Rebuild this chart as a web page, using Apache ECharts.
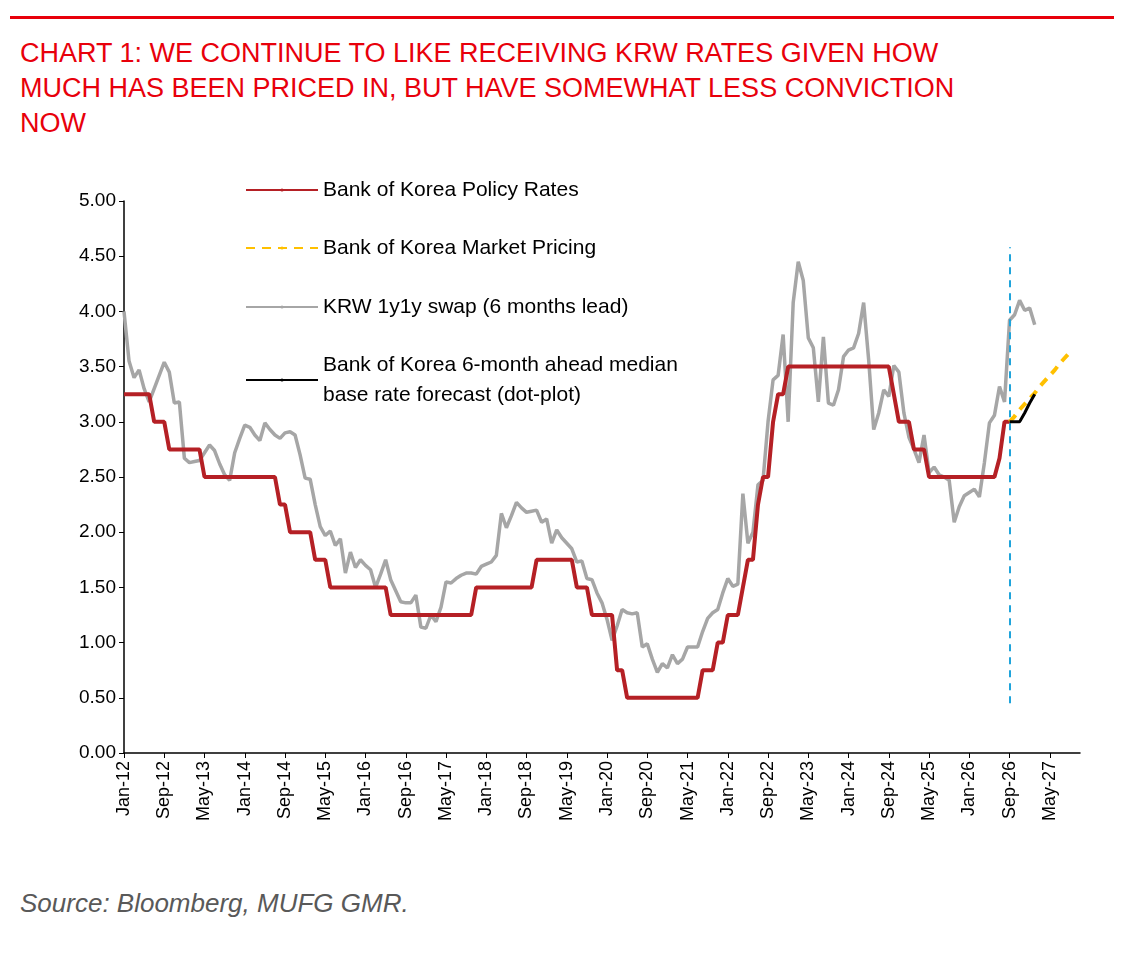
<!DOCTYPE html>
<html>
<head>
<meta charset="utf-8">
<script src="https://cdn.jsdelivr.net/npm/echarts@6/dist/echarts.min.js"></script>
<style>
  body { margin: 0; background: #fff; font-family: "Liberation Sans", Arial, sans-serif; }
  #rule { position: absolute; left: 10px; top: 16px; width: 1104px; height: 3px; background: #e8000b; }
  #title { position: absolute; left: 20px; top: 36px; width: 1100px; color: #e8000b; font-size: 27px; line-height: 35px; }
  #chart { position: absolute; left: 0; top: 140px; width: 1124px; height: 730px; }
  #source { position: absolute; left: 20px; top: 888px; color: #595959; font-size: 26px; font-style: italic; }
</style>
</head>
<body>
<div id="rule"></div>
<div id="title">CHART 1: WE CONTINUE TO LIKE RECEIVING KRW RATES GIVEN HOW<br>MUCH HAS BEEN PRICED IN, BUT HAVE SOMEWHAT LESS CONVICTION<br>NOW</div>
<div id="chart"></div>
<div id="source">Source: Bloomberg, MUFG GMR.</div>
<script>
const monthNames = ['Jan','Feb','Mar','Apr','May','Jun','Jul','Aug','Sep','Oct','Nov','Dec'];
const years = [12,13,14,15,16,17,18,19,20,21,22,23,24,25,26,27];
const lastMonthIdx = 190; // Nov-27

const months = [];
years.forEach(y => monthNames.forEach(m => months.push(m + '-' + y)));
const categories = months.slice(0, lastMonthIdx + 1);

// Bank of Korea policy rate, monthly from Jan-12 to Sep-26
const policyRate = [
  3.25,3.25,3.25,3.25,3.25,3.25,3.00,3.00,3.00,2.75,2.75,2.75,
  2.75,2.75,2.75,2.75,2.50,2.50,2.50,2.50,2.50,2.50,2.50,2.50,
  2.50,2.50,2.50,2.50,2.50,2.50,2.50,2.25,2.25,2.00,2.00,2.00,
  2.00,2.00,1.75,1.75,1.75,1.50,1.50,1.50,1.50,1.50,1.50,1.50,
  1.50,1.50,1.50,1.50,1.50,1.25,1.25,1.25,1.25,1.25,1.25,1.25,
  1.25,1.25,1.25,1.25,1.25,1.25,1.25,1.25,1.25,1.25,1.50,1.50,
  1.50,1.50,1.50,1.50,1.50,1.50,1.50,1.50,1.50,1.50,1.75,1.75,
  1.75,1.75,1.75,1.75,1.75,1.75,1.50,1.50,1.50,1.25,1.25,1.25,
  1.25,1.25,0.75,0.75,0.50,0.50,0.50,0.50,0.50,0.50,0.50,0.50,
  0.50,0.50,0.50,0.50,0.50,0.50,0.50,0.75,0.75,0.75,1.00,1.00,
  1.25,1.25,1.25,1.50,1.75,1.75,2.25,2.50,2.50,3.00,3.25,3.25,
  3.50,3.50,3.50,3.50,3.50,3.50,3.50,3.50,3.50,3.50,3.50,3.50,
  3.50,3.50,3.50,3.50,3.50,3.50,3.50,3.50,3.50,3.25,3.00,3.00,
  3.00,2.75,2.75,2.75,2.50,2.50,2.50,2.50,2.50,2.50,2.50,2.50,
  2.50,2.50,2.50,2.50,2.50,2.50,2.67,3.00,3.00
];

// KRW 1y1y swap (6 months lead), monthly from Jan-12 to Feb-27
const swap1y1y = [
  4.00,3.55,3.40,3.47,3.30,3.18,3.30,3.42,3.54,3.45,3.17,3.18,
  2.67,2.63,2.64,2.65,2.72,2.79,2.74,2.62,2.52,2.47,2.72,2.85,
  2.97,2.95,2.88,2.83,2.99,2.93,2.88,2.85,2.90,2.91,2.88,2.70,
  2.49,2.48,2.25,2.05,1.97,2.01,1.88,1.94,1.63,1.82,1.68,1.75,
  1.70,1.66,1.50,1.62,1.75,1.57,1.47,1.37,1.36,1.36,1.43,1.14,
  1.13,1.25,1.19,1.32,1.55,1.54,1.58,1.61,1.63,1.63,1.62,1.69,
  1.71,1.73,1.79,2.17,2.04,2.15,2.27,2.22,2.18,2.19,2.20,2.09,
  2.12,1.90,2.02,1.95,1.90,1.85,1.73,1.74,1.58,1.57,1.45,1.36,
  1.21,1.02,1.15,1.30,1.27,1.26,1.27,0.96,0.99,0.85,0.73,0.81,
  0.77,0.89,0.81,0.85,0.96,0.96,0.96,1.10,1.22,1.27,1.30,1.45,
  1.58,1.51,1.53,2.35,1.90,2.00,2.43,2.47,3.00,3.38,3.42,3.79,
  3.00,4.08,4.45,4.28,3.76,3.67,3.18,3.77,3.17,3.15,3.29,3.59,
  3.65,3.67,3.80,4.08,3.56,2.93,3.08,3.29,3.23,3.51,3.45,3.08,
  2.86,2.75,2.63,2.88,2.54,2.59,2.52,2.50,2.47,2.09,2.23,2.33,
  2.36,2.39,2.32,2.63,2.99,3.06,3.32,3.18,3.92,3.97,4.10,4.01,
  4.03,3.88
];

// Market pricing from Sep-26 to Sep-27
const pricingStart = 'Sep-26';
const marketPricing = [3.00,3.05,3.11,3.16,3.21,3.26,3.32,3.37,3.42,3.47,3.53,3.58,3.63];

// Dot-plot median forecast from Sep-26 to Feb-27
const dotPlot = [3.00,3.00,3.00,3.08,3.17,3.25];

const startIdx = categories.indexOf(pricingStart);
const padTo = (arr, offset) => categories.map((_, i) => (i >= offset && i - offset < arr.length) ? arr[i - offset] : null);

const font = '"Liberation Sans", Arial, sans-serif';
const legendText = { fontSize: 21, color: '#000', fontFamily: font, lineHeight: 30 };
const mkLegend = (name, top) => ({
  data: [name], left: 240, top: top, itemWidth: 72, itemHeight: 4, itemGap: 0,
  textStyle: legendText, selectedMode: false
});

const chart = echarts.init(document.getElementById('chart'));
chart.setOption({
  animation: false,
  grid: { left: 124, right: 44, top: 61, bottom: 117 },
  legend: [
    mkLegend('Bank of Korea Policy Rates', 30),
    mkLegend('Bank of Korea Market Pricing', 88),
    mkLegend('KRW 1y1y swap (6 months lead)', 147),
    mkLegend('Bank of Korea 6-month ahead median\nbase rate forecast (dot-plot)', 205)
  ],
  xAxis: {
    type: 'category', data: categories, boundaryGap: false,
    axisLine: { lineStyle: { color: '#000', width: 1.5 } },
    axisTick: { interval: 7, alignWithLabel: true, length: 5, lineStyle: { color: '#000' } },
    axisLabel: { interval: 7, rotate: 90, fontSize: 18, color: '#000', fontFamily: font, margin: 8 },
    splitLine: { show: false }
  },
  yAxis: {
    type: 'value', min: 0, max: 5, interval: 0.5,
    axisLine: { show: true, lineStyle: { color: '#000', width: 1.5 } },
    axisTick: { show: true, length: 5, lineStyle: { color: '#000' } },
    axisLabel: { fontSize: 19, color: '#000', fontFamily: font, formatter: v => v.toFixed(2), margin: 8 },
    splitLine: { show: false }
  },
  series: [
    {
      name: 'KRW 1y1y swap (6 months lead)', type: 'line', data: padTo(swap1y1y, 0), symbol: 'none',
      lineStyle: { color: '#a6a6a6', width: 3.5 }, itemStyle: { color: '#a6a6a6' }, z: 2
    },
    {
      name: 'Bank of Korea Policy Rates', type: 'line', data: padTo(policyRate, 0), symbol: 'none',
      lineStyle: { color: '#b52025', width: 4 }, itemStyle: { color: '#b52025' }, z: 3,
      markLine: {
        silent: true, symbol: 'none', label: { show: false },
        lineStyle: { color: '#1fa4db', type: [7, 6], width: 2 },
        data: [[{ coord: [pricingStart, 0.45] }, { coord: [pricingStart, 4.58] }]]
      }
    },
    {
      name: 'Bank of Korea Market Pricing', type: 'line', data: padTo(marketPricing, startIdx), symbol: 'none',
      lineStyle: { color: '#ffc000', width: 4, type: [9, 7] }, itemStyle: { color: '#ffc000' }, z: 4
    },
    {
      name: 'Bank of Korea 6-month ahead median\nbase rate forecast (dot-plot)', type: 'line', data: padTo(dotPlot, startIdx), symbol: 'none',
      lineStyle: { color: '#000', width: 3 }, itemStyle: { color: '#000' }, z: 5
    }
  ]
});
</script>
</body>
</html>
